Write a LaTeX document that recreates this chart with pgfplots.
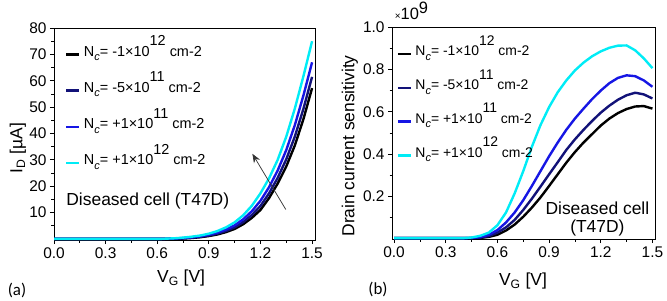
\documentclass[border=0pt]{standalone}
\usepackage{pgfplots}
\usepackage{pgfplotstable}
\pgfplotsset{compat=1.18}
\usetikzlibrary{arrows.meta}
\usepackage{fontspec}
\setmainfont{Liberation Sans}
\newfontfamily\calibri{Carlito}

\definecolor{ncA}{RGB}{0,0,0}
\definecolor{ncB}{RGB}{18,18,120}
\definecolor{ncC}{RGB}{22,22,228}
\definecolor{ncD}{RGB}{0,236,246}

% drain current I_D [uA] versus gate voltage
\pgfplotstableread{
V     A     B      C      D
0.00  0     0      0      0
0.10  0     0      0      0
0.20  0     0      0      0
0.30  0     0      0      0
0.40  0     0      0      0
0.50  0     0      0      0
0.60  0     0      0      0
0.65  0.00  0.02   0.06   0.10
0.70  0.05  0.10   0.16   0.25
0.75  0.15  0.23   0.34   0.50
0.80  0.35  0.47   0.63   0.85
0.85  0.65  0.81   1.01   1.30
0.90  1.10  1.32   1.60   2.00
0.95  1.70  2.01   2.42   3.00
1.00  2.60  3.03   3.59   4.40
1.05  3.80  4.40   5.18   6.30
1.10  5.60  6.42   7.47   9.00
1.15  8.00  9.10  10.53  12.60
1.20 11.00 12.51  14.47  17.30
1.25 15.50 17.30  19.63  23.00
1.30 21.00 23.16  25.95  30.00
1.35 27.50 30.21  33.72  38.80
1.40 35.50 38.86  43.20  49.50
1.45 45.50 49.41  54.47  61.80
1.50 57.20 61.47  66.99  75.00
}\currenttable

% drain current sensitivity (x 1e9) versus gate voltage
\pgfplotstableread{
V     A      B      C      D
0.00  0.004  0.004  0.004  0.004
0.10  0.004  0.004  0.004  0.004
0.20  0.004  0.004  0.004  0.004
0.30  0.004  0.004  0.004  0.004
0.40  0.004  0.004  0.004  0.004
0.45  0.004  0.004  0.005  0.007
0.50  0.005  0.007  0.009  0.015
0.55  0.010  0.014  0.020  0.030
0.60  0.020  0.030  0.042  0.065
0.65  0.040  0.055  0.078  0.125
0.70  0.068  0.090  0.125  0.215
0.75  0.105  0.137  0.183  0.320
0.80  0.148  0.190  0.250  0.435
0.85  0.196  0.247  0.320  0.537
0.90  0.250  0.305  0.390  0.622
0.95  0.305  0.362  0.455  0.692
1.00  0.360  0.420  0.515  0.748
1.05  0.410  0.470  0.568  0.795
1.10  0.455  0.515  0.615  0.832
1.15  0.495  0.557  0.660  0.862
1.20  0.535  0.596  0.700  0.885
1.25  0.568  0.629  0.735  0.902
1.30  0.594  0.657  0.760  0.912
1.35  0.613  0.678  0.772  0.913
1.40  0.625  0.690  0.768  0.890
1.45  0.627  0.682  0.748  0.852
1.50  0.615  0.663  0.718  0.806
}\sensetable

\DeclareRobustCommand{\nc}[2]{N\raisebox{-4.5bp}{\fontsize{11}{11}\selectfont\itshape c}= #1\texttimes10\raisebox{10.5bp}{#2} cm-2}

\pgfplotsset{
  panel/.style={
    scale only axis, width=261bp, height=212bp,
    axis line style={line width=0.8bp},
    tick pos=left, tick align=outside,
    major tick length=4bp, minor tick length=2.5bp,
    every tick/.style={black, line width=0.7bp},
    xtick={0,0.3,0.6,0.9,1.2,1.5},
    minor xtick={0.15,0.45,0.75,1.05,1.35},
    xticklabel style={/pgf/number format/.cd, fixed, fixed zerofill, precision=1},
    /pgf/number format/assume math mode=true,
    tick label style={font=\fontsize{15.5}{18}\selectfont},
    label style={font=\fontsize{17.5}{20}\selectfont},
    every axis plot/.append style={line width=2.4bp, line join=round},
    legend cell align=left,
    legend image code/.code={\draw[##1, line width=2.6bp] (0bp,1.8bp) -- (13bp,1.8bp); \path (16.5bp,0bp);},
    clip=false,
  },
}

\begin{document}
\begin{tikzpicture}
\useasboundingbox (0,0) rectangle (667bp,301bp);

\begin{axis}[panel,
  at={(54bp,61bp)}, anchor=south west,
  xmin=0, xmax=1.517, ymin=-0.4, ymax=80,
  ytick={10,20,...,80}, minor ytick={5,15,...,75},
  xlabel={V\textsubscript{G} [V]},
  ylabel={I\textsubscript{D} [µA]},
  xlabel style={at={(axis description cs:0.487,-0.179)}, anchor=center},
  ylabel style={at={(axis description cs:-0.138,0.434)}, anchor=center},
  legend style={at={(axis description cs:0.042,0.962)}, anchor=north west,
    draw=none, fill=none, inner sep=0pt, outer sep=0pt,
    font=\fontsize{14.5}{16}\selectfont, row sep=11.3bp,
    cells={anchor=base west},
    nodes={text height=20bp, text depth=5bp, inner sep=0pt}},
]
\addplot[ncA] table[x=V, y=A] {\currenttable};
\addlegendentry{\nc{-1}{12}}
\addplot[ncB] table[x=V, y=B] {\currenttable};
\addlegendentry{\nc{-5}{11}}
\addplot[ncC] table[x=V, y=C] {\currenttable};
\addlegendentry{\nc{+1}{11}}
\addplot[ncD] table[x=V, y=D] {\currenttable};
\addlegendentry{\nc{+1}{12}}
\draw[-{Stealth[length=9bp,width=7bp]}, black!80, line width=0.7bp] (axis cs:1.347,11.2) -- (axis cs:1.153,32.3);
\node[anchor=west, font=\fontsize{17.5}{20}\selectfont] at (axis description cs:0.034,0.184) {Diseased cell (T47D)};
\end{axis}

\begin{axis}[panel,
  at={(392bp,62bp)}, anchor=south west, width=263bp,
  xmin=-0.012, xmax=1.515, ymin=0, ymax=1.0,
  ytick={0.2,0.4,0.6,0.8,1.0}, minor ytick={0.1,0.3,0.5,0.7,0.9},
  yticklabel style={/pgf/number format/.cd, fixed, fixed zerofill, precision=1},
  xlabel={V\textsubscript{G} [V]},
  ylabel={Drain current sensitivity},
  xlabel style={at={(axis description cs:0.498,-0.198)}, anchor=center},
  ylabel style={at={(axis description cs:-0.160,0.439)}, anchor=center},
  legend style={at={(axis description cs:0.017,0.958)}, anchor=north west,
    draw=none, fill=none, inner sep=0pt, outer sep=0pt,
    font=\fontsize{14}{16}\selectfont, row sep=8.7bp,
    cells={anchor=base west},
    nodes={text height=20bp, text depth=5bp, inner sep=0pt}},
]
\addplot[ncA] table[x=V, y=A] {\sensetable};
\addlegendentry{\nc{-1}{12}}
\addplot[ncB] table[x=V, y=B] {\sensetable};
\addlegendentry{\nc{-5}{11}}
\addplot[ncC] table[x=V, y=C] {\sensetable};
\addlegendentry{\nc{+1}{11}}
\addplot[ncD] table[x=V, y=D] {\sensetable};
\addlegendentry{\nc{+1}{12}}
\node[anchor=center, align=center, font=\fontsize{17.5}{18}\selectfont] at (axis description cs:0.781,0.094) {Diseased cell\\(T47D)};
\node[anchor=base west, inner sep=0pt, font=\fontsize{16.5}{18}\selectfont] at ([yshift=7bp]axis description cs:0.010,1.0) {{\fontsize{10}{10}\selectfont\texttimes}10\raisebox{6.5bp}{9}};
\end{axis}

\node[font=\calibri\fontsize{17}{18}\selectfont] at (17bp,11bp) {(a)};
\node[font=\calibri\fontsize{17}{18}\selectfont] at (378bp,12bp) {(b)};
\end{tikzpicture}
\end{document}
